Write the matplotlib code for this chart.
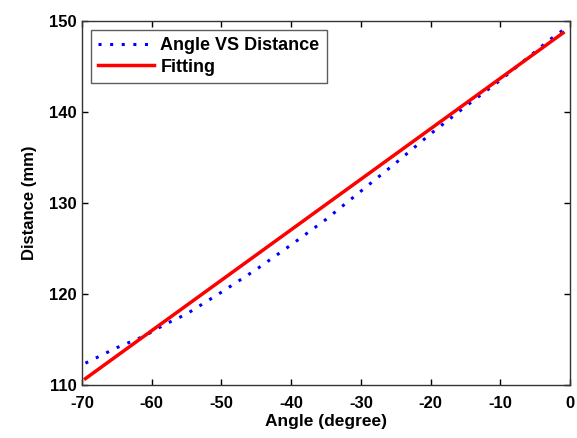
import numpy as np
import matplotlib.pyplot as plt

plt.rcParams['font.family'] = ['Liberation Sans', 'DejaVu Sans']
plt.rcParams['font.weight'] = 'bold'
plt.rcParams['axes.unicode_minus'] = False

angle = [-69.5, -65, -61, -58, -55, -50, -45, -40, -35, -30, -25, -20, -15, -10, -6, -3, -1]
distance = [112.4, 114.1, 115.4, 116.7, 117.8, 120.2, 122.7, 125.4, 128.2, 131.3,
            134.4, 137.6, 140.6, 143.5, 146.0, 147.9, 149.0]

# linear fitting line end points
fit_angle = [-69.5, -1]
fit_distance = [110.7, 148.7]

fig = plt.figure(figsize=(5.77, 4.38), dpi=100)
ax = fig.add_axes([0.142, 0.121, 0.846, 0.831])

ax.plot(angle, distance, linestyle=(0, (1, 2.8)), color='blue', linewidth=2.2,
        label='Angle VS Distance')
ax.plot(fit_angle, fit_distance, linestyle='-', color='red', linewidth=2.5, label='Fitting')

ax.set_xlim(-70, 0)
ax.set_ylim(110, 150)
ax.set_xticks(np.arange(-70, 1, 10))
ax.set_yticks(np.arange(110, 151, 10))
ax.tick_params(axis='both', which='both', direction='in', top=True, right=True,
               length=4, width=1, labelsize=12)
ax.tick_params(axis='x', pad=8)
for s in ax.spines.values():
    s.set_linewidth(1)
    s.set_color('#333333')

ax.set_xlabel('Angle (degree)', fontsize=12.5, fontweight='bold', labelpad=2)
ax.set_ylabel('Distance (mm)', fontsize=12, fontweight='bold', labelpad=9)

leg = ax.legend(loc='upper left', fontsize=13, frameon=True, fancybox=False,
                edgecolor='#333333', handlelength=3.1, handletextpad=0.35,
                borderaxespad=0.5, labelspacing=0.25, borderpad=0.4)
leg.get_frame().set_linewidth(1)

fig.savefig('out.png', dpi=100)
